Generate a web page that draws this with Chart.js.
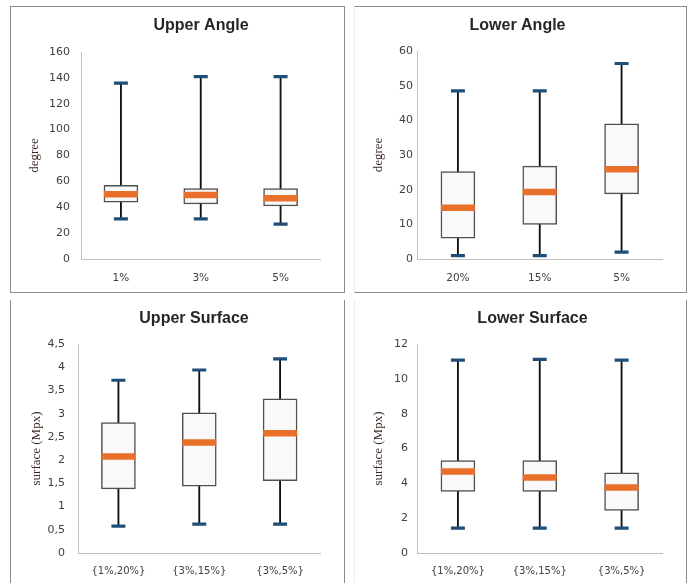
<!DOCTYPE html>
<html>
<head>
<meta charset="utf-8">
<title>Box plots</title>
<script src="https://cdn.jsdelivr.net/npm/chart.js@4.4.0/dist/chart.umd.min.js"></script>
<style>
  html, body { margin: 0; padding: 0; background: #fff; }
  body { width: 693px; height: 583px; position: relative; overflow: hidden; }
  .panel { position: absolute; box-sizing: border-box; }
  .panel canvas { position: absolute; left: 0; top: 0; }
  #p1 { left: 10px; top: 6px; width: 335px; height: 287px; border: 1px solid #8c8c8c; }
  #p2 { left: 354px; top: 6px; width: 333px; height: 287px; border: 1px solid #8c8c8c; border-left-color: #ececec; }
  #p3 { left: 10px; top: 300px; width: 335px; height: 283px; border-left: 1px solid #8c8c8c; border-right: 1px solid #8c8c8c; }
  #p4 { left: 354px; top: 300px; width: 333px; height: 283px; border-left: 1px solid #ececec; border-right: 1px solid #8c8c8c; }
</style>
</head>
<body>
<div class="panel" id="p1"><canvas id="c1" width="333" height="285"></canvas></div>
<div class="panel" id="p2"><canvas id="c2" width="331" height="285"></canvas></div>
<div class="panel" id="p3"><canvas id="c3" width="333" height="283"></canvas></div>
<div class="panel" id="p4"><canvas id="c4" width="331" height="283"></canvas></div>

<script>
'use strict';

// --- Data ------------------------------------------------------------------
const upperAngleCats = ['1%', '3%', '5%'];
const upperAngleMin  = [31, 31, 27];
const upperAngleQ1   = [44, 42.5, 41];
const upperAngleMed  = [50, 49.5, 47];
const upperAngleQ3   = [57, 54.5, 54.5];
const upperAngleMax  = [136, 141, 141];
const upperAngleTicks = ['0', '20', '40', '60', '80', '100', '120', '140', '160'];

const lowerAngleCats = ['20%', '15%', '5%'];
const lowerAngleMin  = [1, 1, 2];
const lowerAngleQ1   = [6, 10, 18.8];
const lowerAngleMed  = [14.8, 19.3, 25.9];
const lowerAngleQ3   = [25.2, 26.8, 39];
const lowerAngleMax  = [48.5, 48.5, 56.4];
const lowerAngleTicks = ['0', '10', '20', '30', '40', '50', '60'];

const surfaceCats = ['{1%,20%}', '{3%,15%}', '{3%,5%}'];

const upperSurfaceMin = [0.58, 0.62, 0.62];
const upperSurfaceQ1  = [1.38, 1.44, 1.56];
const upperSurfaceMed = [2.08, 2.38, 2.58];
const upperSurfaceQ3  = [2.81, 3.02, 3.32];
const upperSurfaceMax = [3.72, 3.94, 4.18];
const upperSurfaceTicks = ['0', '0,5', '1', '1,5', '2', '2,5', '3', '3,5', '4', '4,5'];

const lowerSurfaceMin = [1.43, 1.43, 1.43];
const lowerSurfaceQ1  = [3.53, 3.53, 2.44];
const lowerSurfaceMed = [4.68, 4.34, 3.76];
const lowerSurfaceQ3  = [5.31, 5.31, 4.6];
const lowerSurfaceMax = [11.07, 11.12, 11.07];
const lowerSurfaceTicks = ['0', '2', '4', '6', '8', '10', '12'];

// --- Styles ----------------------------------------------------------------
const TICK_COLOR = '#404040';
const AXIS_COLOR = '#bfbfbf';
const BOX_FILL = '#f9f9f9';
const BOX_EDGE = '#505050';
const WHISKER = '#111111';
const CAP_COLOR = '#1f4e79';
const MEDIAN_COLOR = '#e8702a';

// Chart title drawn at a fixed spot (Excel centres them oddly)
const panelTitle = {
  id: 'panelTitle',
  afterDraw: function (chart, args, opts) {
    if (!opts || !opts.text) return;
    const ctx = chart.ctx;
    ctx.save();
    ctx.font = 'bold 16px "Liberation Sans", Arial, sans-serif';
    ctx.fillStyle = '#262626';
    ctx.textAlign = 'center';
    ctx.textBaseline = 'middle';
    ctx.fillText(opts.text, opts.x, opts.y);
    ctx.restore();
  }
};

function makeBoxChart(id, p) {
  const n = p.cats.length;
  const whiskers = [], boxes = [];
  for (let i = 0; i < n; i++) {
    whiskers.push([p.min[i], p.max[i]]);
    boxes.push([p.q1[i], p.q3[i]]);
  }

  return new Chart(document.getElementById(id), {
    type: 'bar',
    data: {
      labels: p.cats,
      datasets: [
        { // caps (min)
          type: 'line', data: p.min, showLine: false, order: 1,
          pointStyle: 'line', pointRadius: 7, pointHoverRadius: 7,
          borderColor: CAP_COLOR, pointBorderWidth: 3.2, borderWidth: 3.2
        },
        { // caps (max)
          type: 'line', data: p.max, showLine: false, order: 1,
          pointStyle: 'line', pointRadius: 7, pointHoverRadius: 7,
          borderColor: CAP_COLOR, pointBorderWidth: 3.2, borderWidth: 3.2
        },
        { // median
          type: 'line', data: p.med, showLine: false, order: 2,
          pointStyle: 'line', pointRadius: 17, pointHoverRadius: 17,
          borderColor: MEDIAN_COLOR, pointBorderWidth: 6.5, borderWidth: 6.5
        },
        { // box q1..q3
          data: boxes, order: 3, grouped: false, barThickness: 34,
          backgroundColor: BOX_FILL, borderColor: BOX_EDGE,
          borderWidth: 1.5, borderSkipped: false
        },
        { // whisker min..max
          data: whiskers, order: 4, grouped: false, barThickness: 1.2,
          backgroundColor: WHISKER, borderWidth: 0
        }
      ]
    },
    options: {
      responsive: false,
      animation: false,
      events: [],
      layout: { padding: { left: 0, right: p.padR, top: p.padT, bottom: 0 } },
      plugins: {
        legend: { display: false },
        tooltip: { enabled: false },
        title: { display: false },
        panelTitle: { text: p.title, x: p.titleX, y: p.titleY }
      },
      scales: {
        x: {
          grid: { display: false, drawTicks: false },
          border: { display: true, color: AXIS_COLOR, width: 1 },
          ticks: {
            color: TICK_COLOR, padding: p.xPad, maxRotation: 0,
            font: { family: '"DejaVu Sans", Verdana, sans-serif', size: p.xFont }
          },
          afterFit: function (scale) { scale.height = p.xH; }
        },
        y: {
          min: 0, max: p.top,
          grid: { display: false, drawTicks: false },
          border: { display: true, color: AXIS_COLOR, width: 1 },
          ticks: {
            stepSize: p.step, color: TICK_COLOR, padding: p.yPad,
            font: { family: '"DejaVu Sans", Verdana, sans-serif', size: 11 },
            callback: function (value, index) { return p.ticks[index]; }
          },
          title: {
            display: true, text: p.yTitle, color: '#3f2a24',
            padding: { top: p.yTitlePad, bottom: 0 },
            font: { family: '"Liberation Serif", "Times New Roman", serif', size: 13 }
          },
          afterFit: function (scale) { scale.width = p.yW; }
        }
      }
    },
    plugins: [panelTitle]
  });
}

document.addEventListener('DOMContentLoaded', function () {
  makeBoxChart('c1', {
    title: 'Upper Angle', titleX: 190, titleY: 19,
    cats: upperAngleCats, min: upperAngleMin, q1: upperAngleQ1, med: upperAngleMed,
    q3: upperAngleQ3, max: upperAngleMax, ticks: upperAngleTicks,
    top: 160, step: 20, yTitle: 'degree',
    yW: 70, padR: 16, padT: 45, xH: 33, yPad: 11, xPad: 13, xFont: 10.5, yTitlePad: 16
  });

  makeBoxChart('c2', {
    title: 'Lower Angle', titleX: 162.5, titleY: 19,
    cats: lowerAngleCats, min: lowerAngleMin, q1: lowerAngleQ1, med: lowerAngleMed,
    q3: lowerAngleQ3, max: lowerAngleMax, ticks: lowerAngleTicks,
    top: 60, step: 10, yTitle: 'degree',
    yW: 62, padR: 15, padT: 44, xH: 33, yPad: 4, xPad: 13, xFont: 10.5, yTitlePad: 16
  });

  makeBoxChart('c3', {
    title: 'Upper Surface', titleX: 183, titleY: 19,
    cats: surfaceCats, min: upperSurfaceMin, q1: upperSurfaceQ1, med: upperSurfaceMed,
    q3: upperSurfaceQ3, max: upperSurfaceMax, ticks: upperSurfaceTicks,
    top: 4.5, step: 0.5, yTitle: 'surface (Mpx)',
    yW: 67, padR: 16, padT: 44, xH: 30, yPad: 13, xPad: 12, xFont: 10, yTitlePad: 18
  });

  makeBoxChart('c4', {
    title: 'Lower Surface', titleX: 177.5, titleY: 19,
    cats: surfaceCats, min: lowerSurfaceMin, q1: lowerSurfaceQ1, med: lowerSurfaceMed,
    q3: lowerSurfaceQ3, max: lowerSurfaceMax, ticks: lowerSurfaceTicks,
    top: 12, step: 2, yTitle: 'surface (Mpx)',
    yW: 62, padR: 15, padT: 44, xH: 30, yPad: 9, xPad: 12, xFont: 10, yTitlePad: 16
  });
});
</script>
</body>
</html>
